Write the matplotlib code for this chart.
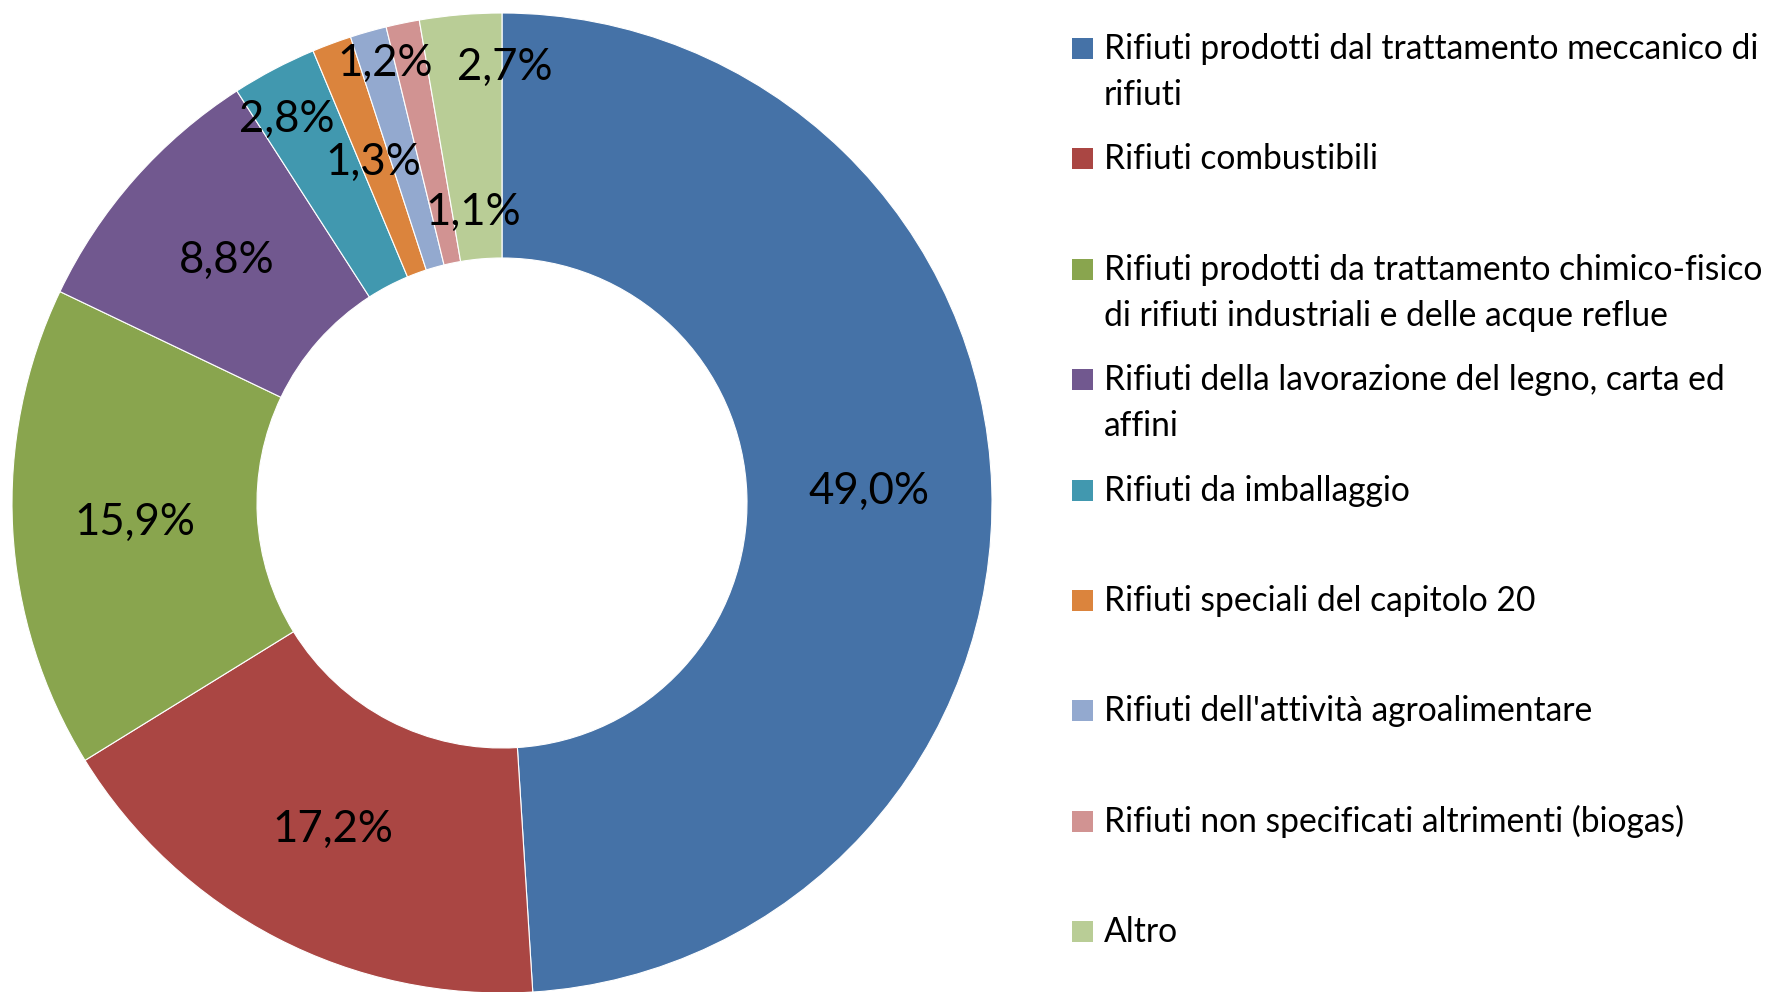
import matplotlib
matplotlib.use("Agg")
import matplotlib.pyplot as plt
from matplotlib.patches import Rectangle
import numpy as np

plt.rcParams['font.family'] = ['Lato', 'DejaVu Sans']

categories = [
    "Rifiuti prodotti dal trattamento meccanico di\nrifiuti",
    "Rifiuti combustibili",
    "Rifiuti prodotti da trattamento chimico-fisico\ndi rifiuti industriali e delle acque reflue",
    "Rifiuti della lavorazione del legno, carta ed\naffini",
    "Rifiuti da imballaggio",
    "Rifiuti speciali del capitolo 20",
    "Rifiuti dell'attività agroalimentare",
    "Rifiuti non specificati altrimenti (biogas)",
    "Altro",
]
values = [49.0, 17.2, 15.9, 8.8, 2.8, 1.3, 1.2, 1.1, 2.7]
colors = ["#4572A7", "#AA4643", "#89A54E", "#71588F", "#4198AF",
          "#DB843D", "#93A9CF", "#D19392", "#B9CD96"]

# hand-placed labels for the thin slices (pie units)
label_pos = {
    4: (-0.439, 0.782),
    5: (-0.263, 0.696),
    6: (-0.239, 0.898),
    7: (-0.059, 0.592),
    8: (0.006, 0.888),
}

W, H = 1782, 992
fig = plt.figure(figsize=(W / 100, H / 100), dpi=100)
cx, cy, r = 502, 503, 490
ax = fig.add_axes([(cx - r) / W, (H - cy - r) / H, 2 * r / W, 2 * r / H])

wedges, _ = ax.pie(values, colors=colors, startangle=90, counterclock=False,
                   radius=1, wedgeprops=dict(width=0.5, edgecolor='white', linewidth=0.8))
ax.set_xlim(-1, 1)
ax.set_ylim(-1, 1)
ax.set_aspect('equal')
ax.axis('off')

for i, (w, v) in enumerate(zip(wedges, values)):
    txt = f"{v:.1f}%".replace('.', ',')
    if i in label_pos:
        x, y = label_pos[i]
    else:
        ang = np.deg2rad((w.theta1 + w.theta2) / 2)
        x, y = 0.75 * np.cos(ang), 0.75 * np.sin(ang)
    ax.text(x, y, txt, ha='center', va='center', fontsize=31.5, color='black')

# legend drawn by hand to follow the original layout
for i, (lab, c) in enumerate(zip(categories, colors)):
    base = 59 + i * 110.4
    fig.patches.append(Rectangle((1072 / W, 1 - base / H), 21 / W, 21 / H,
                                 transform=fig.transFigure, facecolor=c, edgecolor='none'))
    for k, line in enumerate(lab.split("\n")):
        fig.text(1104 / W, 1 - (base + k * 46) / H, line, ha='left', va='baseline',
                 fontsize=24.2, color='black')

fig.savefig("out.png", dpi=100)
